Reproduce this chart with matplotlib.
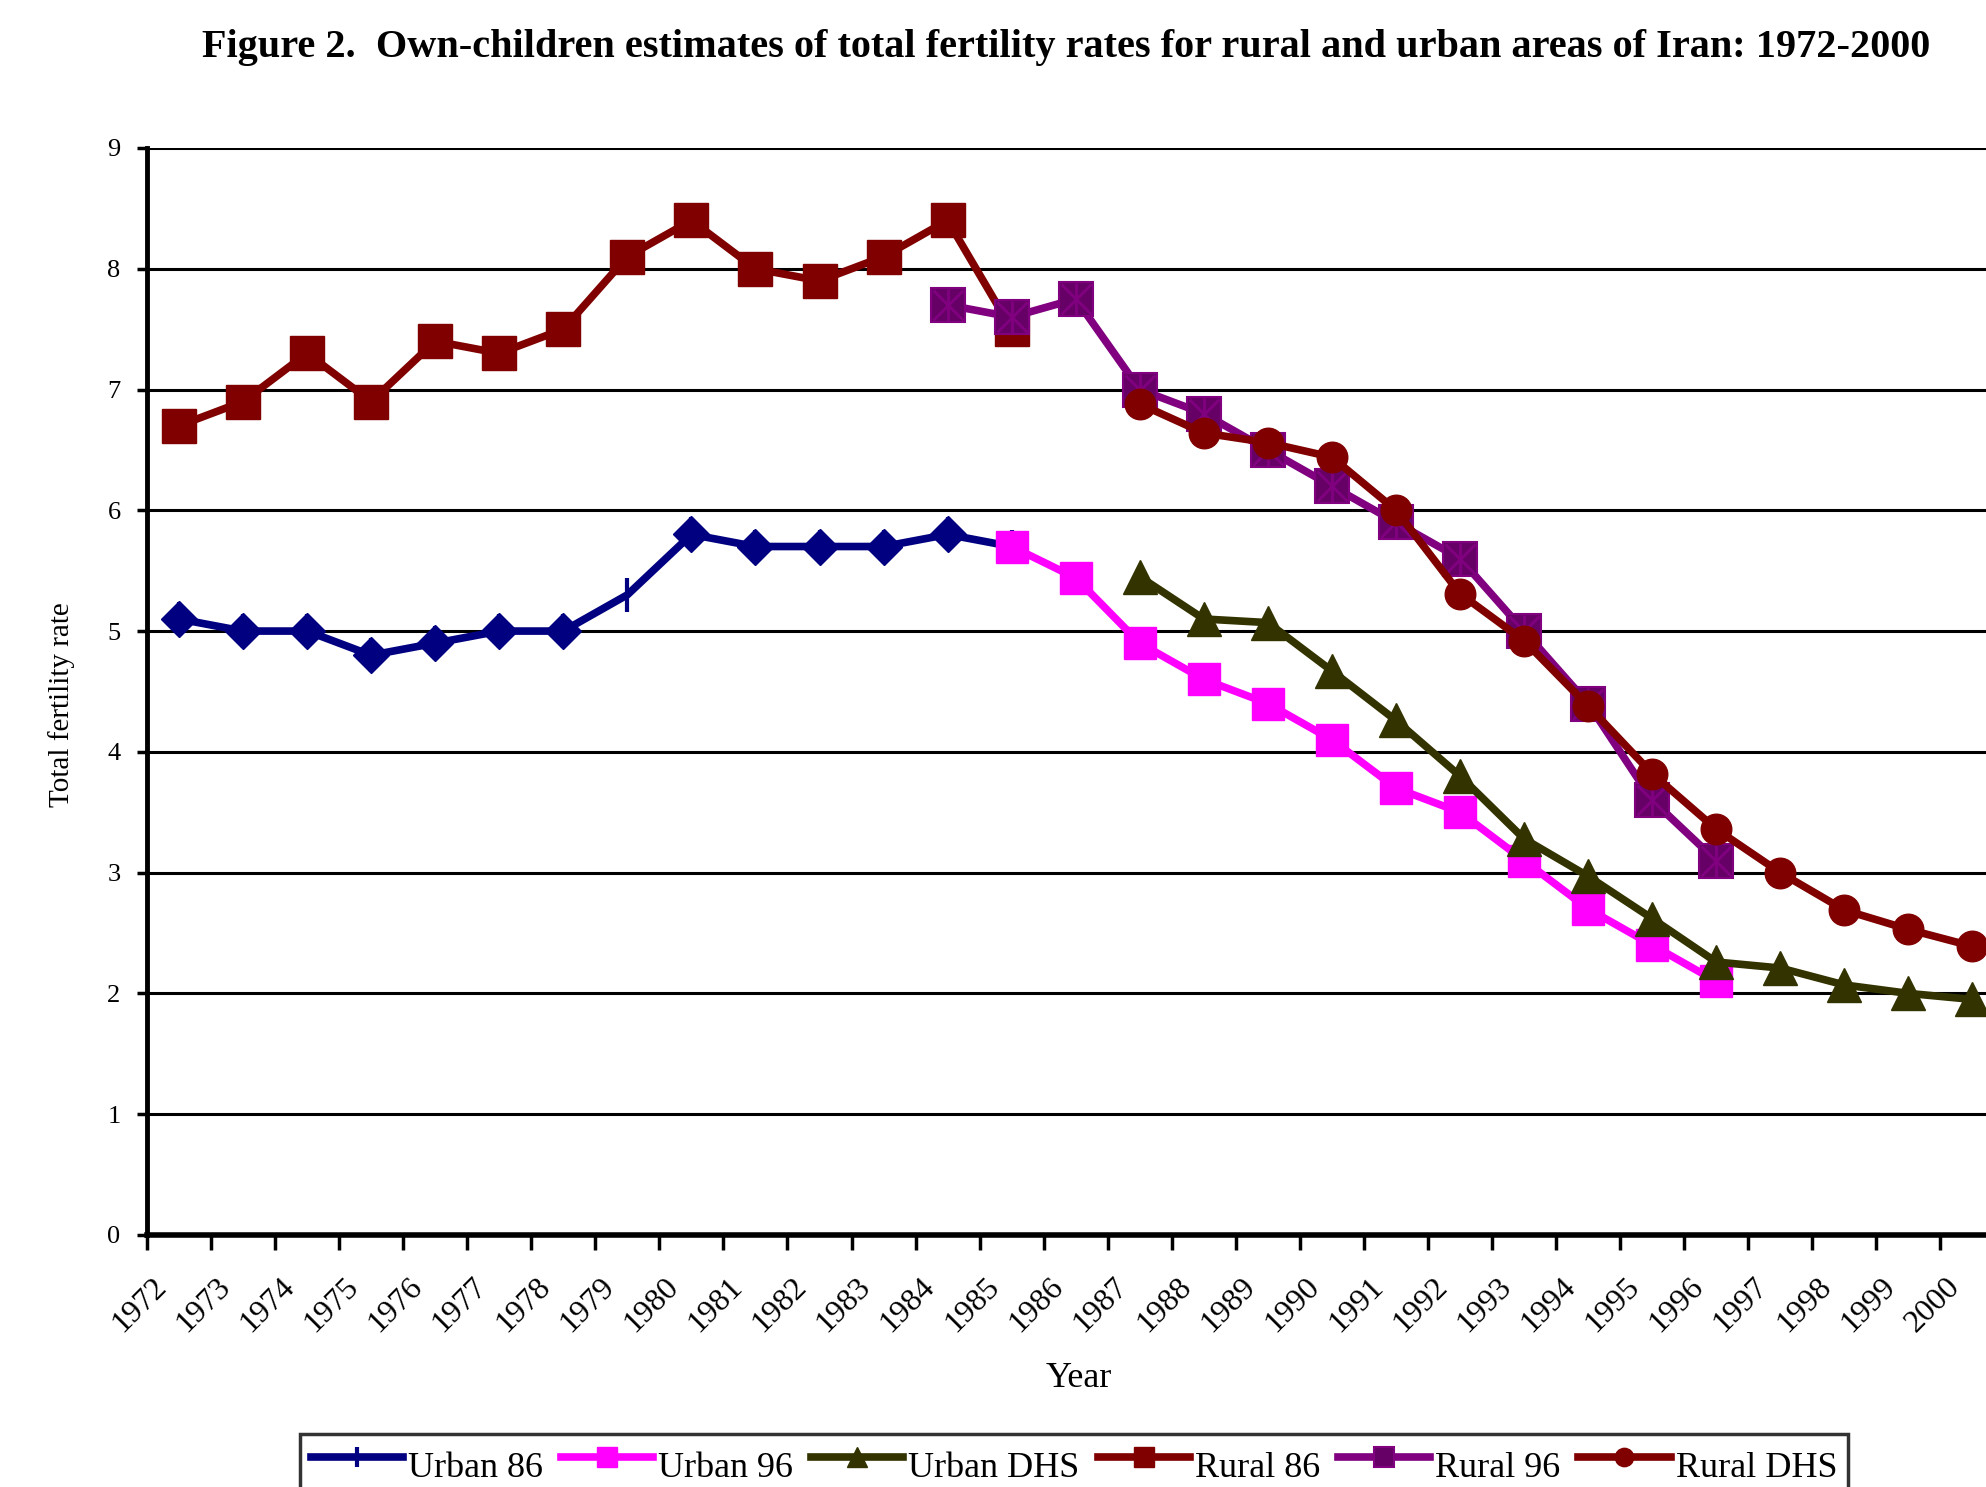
import matplotlib
matplotlib.use("Agg")
import matplotlib.pyplot as plt
from matplotlib.transforms import ScaledTranslation

plt.rcParams['font.family'] = ['Liberation Serif', 'DejaVu Serif']

# categorias del eje x
years = list(range(1972, 2001))

# series
urban86_years = list(range(1972, 1986))
urban86 = [5.1, 5.0, 5.0, 4.8, 4.9, 5.0, 5.0, 5.3, 5.8, 5.7, 5.7, 5.7, 5.8, 5.7]
urban86_diamonds = [0, 1, 2, 3, 4, 5, 6, 8, 9, 10, 11, 12]  # puntos con rombo

urban96_years = list(range(1985, 1997))
urban96 = [5.7, 5.44, 4.9, 4.6, 4.4, 4.1, 3.7, 3.5, 3.1, 2.7, 2.4, 2.1]

urbandhs_years = list(range(1987, 2001))
urbandhs = [5.45, 5.1, 5.07, 4.67, 4.26, 3.8, 3.28, 2.97, 2.62, 2.26, 2.21, 2.07, 2.0, 1.95]

rural86_years = list(range(1972, 1986))
rural86 = [6.7, 6.9, 7.3, 6.9, 7.4, 7.3, 7.5, 8.1, 8.4, 8.0, 7.9, 8.1, 8.4, 7.5]

rural96_years = list(range(1984, 1997))
rural96 = [7.7, 7.6, 7.75, 7.0, 6.8, 6.5, 6.2, 5.9, 5.6, 5.0, 4.4, 3.6, 3.1]

ruraldhs_years = list(range(1987, 2001))
ruraldhs = [6.88, 6.64, 6.56, 6.44, 6.0, 5.31, 4.92, 4.38, 3.82, 3.36, 3.0, 2.69, 2.53, 2.39]

fig = plt.figure(figsize=(19.86, 14.87), dpi=100)
# el eje sigue mas alla del borde derecho (como en el original)
ax = fig.add_axes([0.074, 0.1695, 0.9353, 0.731])

lw = 5.5
# Urban 86
ax.plot(urban86_years, urban86, color='#000080', lw=lw, marker='|', ms=24,
        mew=3, label='Urban 86', zorder=3)
ax.plot(urban86_years, urban86, color='#000080', lw=0, marker='D', ms=18,
        markevery=urban86_diamonds, zorder=3)
# Urban 96
ax.plot(urban96_years, urban96, color='#FF00FF', lw=lw, marker='s', ms=23,
        label='Urban 96', zorder=4)
# Urban DHS
ax.plot(urbandhs_years, urbandhs, color='#333300', lw=lw, marker='^', ms=24,
        label='Urban DHS', zorder=5)
# Rural 86
ax.plot(rural86_years, rural86, color='#800000', lw=lw, marker='s', ms=24,
        label='Rural 86', zorder=6)
# Rural 96
ax.plot(rural96_years, rural96, color='#800080', lw=lw, marker='s', ms=24,
        mfc='#660066', mec='#800080', mew=1.5, label='Rural 96', zorder=7)
ax.plot(rural96_years, rural96, lw=0, marker='x', ms=21, mec='#800080',
        mew=2, zorder=7)
ax.plot(rural96_years, rural96, lw=0, marker='|', ms=23, mec='#800080',
        mew=2, zorder=7)
# Rural DHS
ax.plot(ruraldhs_years, ruraldhs, color='#800000', lw=lw, marker='o', ms=22,
        label='Rural DHS', zorder=8)

ax.set_xlim(1971.5, 2000.5)
ax.set_ylim(0, 9)
ax.set_yticks(range(0, 10))
ax.grid(axis='y', color='black', lw=2.2)
ax.set_axisbelow(True)
for s in ['top', 'right']:
    ax.spines[s].set_visible(False)
ax.spines['left'].set_linewidth(3.5)
ax.spines['bottom'].set_linewidth(4)
ax.spines['bottom'].set_zorder(10)

ax.tick_params(axis='y', labelsize=19, length=7, width=2.5, pad=12)
ax.set_xticks(years)
ax.set_xticklabels([str(y) for y in years], rotation=45, ha='right',
                   va='center', rotation_mode='anchor', fontsize=23)
ax.tick_params(axis='x', which='major', length=0, pad=34)
ax.set_xticks([y - 0.5 for y in years] + [2000.5], minor=True)
ax.tick_params(axis='x', which='minor', length=11, width=2.5)
off = ScaledTranslation(-0.17, 0, fig.dpi_scale_trans)
for lab in ax.get_xticklabels():
    lab.set_transform(lab.get_transform() + off)

fig.text(0.537, 0.968, 'Figure 2.  Own-children estimates of total fertility rates '
         'for rural and urban areas of Iran: 1972-2000',
         ha='center', va='center', fontsize=29, fontweight='bold')
fig.text(0.543, 0.073, 'Year', ha='center', va='center', fontsize=26)
fig.text(0.031, 0.526, 'Total fertility rate', ha='center', va='center',
         rotation=90, fontsize=21)

handles, labels = ax.get_legend_handles_labels()
leg = fig.legend(handles, labels, loc='upper left', bbox_to_anchor=(0.151, 0.0357),
                 ncol=6, fontsize=26, frameon=True, fancybox=False,
                 edgecolor='black', handlelength=2.55, handletextpad=0.14,
                 columnspacing=0.5, borderaxespad=0, borderpad=0.3,
                 markerscale=0.6)
leg.get_frame().set_linewidth(2.5)
# texto un poco mas abajo que la linea, como en el original
for t in leg.get_texts():
    t.set_position((0, -7))

fig.savefig('out.png', dpi=100)
